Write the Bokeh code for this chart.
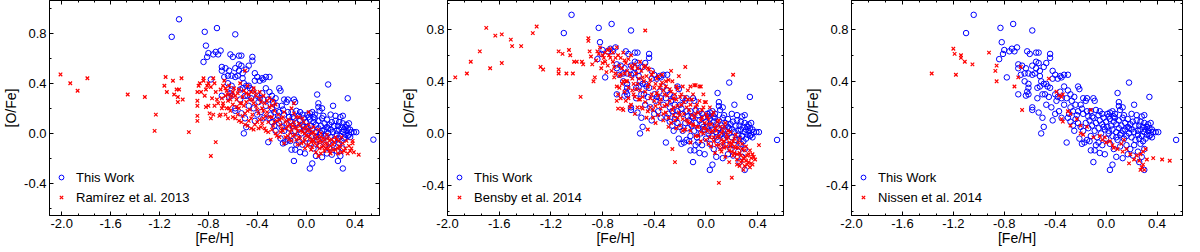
import numpy as np
from bokeh.plotting import figure
from bokeh.layouts import row
from bokeh.models import (FixedTicker, LinearAxis, PrintfTickFormatter, Range1d,
                          Legend, LegendItem, CustomLabelingPolicy)
from bokeh.embed import file_html
from bokeh.resources import INLINE

# ---------------- data ----------------
x_ticks = [-2.0, -1.6, -1.2, -0.8, -0.4, 0.0, 0.4]
y_ticks = [-0.4, 0.0, 0.4, 0.8]

this_work = [
    (-1.04,0.91),(-1.10,0.77),(-0.73,0.84),(-0.83,0.81),(-0.58,0.79),(-0.82,0.70),(-0.80,0.64),(-0.84,0.57),
    (-0.81,0.61),(-0.76,0.63),(-0.74,0.65),(-0.70,0.66),(-0.72,0.63),(-0.62,0.63),(-0.60,0.61),(-0.55,0.62),
    (-0.53,0.62),(-0.44,0.61),(-0.44,0.58),(-0.55,0.55),(-0.53,0.54),(-0.58,0.52),(-0.69,0.53),(-0.66,0.52),
    (-0.69,0.50),(-0.63,0.50),(-0.55,0.50),(-0.52,0.48),(-0.56,0.46),(-0.47,0.54),(-0.49,0.51),(-0.61,0.46),
    (-0.64,0.46),(-0.67,0.45),(-0.58,0.45),(-0.52,0.44),(-0.78,0.43),(-0.42,0.48),(-0.40,0.45),(-0.36,0.44),
    (-0.33,0.45),(-0.30,0.45),(-0.38,0.42),(-0.35,0.43),(-0.42,0.42),(-0.51,0.40),(-0.49,0.38),(-0.47,0.38),
    (-0.46,0.36),(-0.44,0.35),(-0.52,0.36),(-0.54,0.35),(-0.61,0.38),(-0.61,0.35),(-0.62,0.32),(-0.61,0.30),
    (-0.63,0.29),(-0.69,0.30),(-0.64,0.40),(-0.50,0.30),(-0.48,0.30),(-0.45,0.28),(-0.40,0.30),(-0.36,0.32),
    (-0.33,0.36),(-0.30,0.33),(-0.28,0.30),(-0.22,0.36),(-0.21,0.34),(-0.38,0.28),(-0.35,0.27),(-0.31,0.27),
    (-0.27,0.25),(-0.25,0.28),(-0.24,0.22),(-0.28,0.20),(-0.33,0.22),(-0.39,0.25),(-0.43,0.20),(-0.47,0.22),
    (-0.54,0.27),(-0.58,0.20),(-0.58,0.18),(-0.53,0.16),(-0.50,0.12),(-0.40,0.15),(-0.37,0.17),(-0.35,0.12),
    (-0.51,0.00),(-0.49,0.05),(-0.31,-0.07),(-0.42,0.10),(-0.18,0.27),(-0.15,0.27),(-0.10,0.27),(-0.09,0.25),
    (-0.16,0.25),(-0.20,0.22),(-0.19,0.19),(-0.22,0.17),(-0.26,0.17),(-0.29,0.15),(-0.23,0.14),(-0.18,0.15),
    (-0.14,0.13),(-0.12,0.17),(-0.08,0.18),(-0.05,0.17),(-0.03,0.15),(0.01,0.15),(0.03,0.16),(0.05,0.17),
    (0.07,0.15),(0.09,0.31),(0.10,0.24),(0.10,0.21),(0.11,0.18),(0.13,0.20),(0.18,0.39),(0.22,0.22),
    (0.34,0.28),(0.20,0.15),(0.24,0.14),(0.28,0.13),(0.30,0.14),(0.33,0.07),(0.35,0.08),(0.37,0.01),
    (0.39,0.01),(0.41,0.01),(0.55,-0.05),(0.36,-0.03),(0.34,-0.02),(0.31,-0.04),(0.29,-0.06),(0.27,-0.08),
    (0.30,-0.12),(0.25,-0.14),(0.28,-0.18),(0.30,-0.28),(0.26,-0.22),(0.21,-0.17),(0.17,-0.16),(0.13,-0.19),
    (0.08,-0.18),(0.03,-0.28),(0.05,-0.24),(-0.01,-0.16),(-0.05,-0.15),(-0.10,-0.22),(-0.09,-0.13),(-0.12,-0.13),
    (-0.17,-0.07),(-0.19,-0.08),(-0.15,-0.05),(-0.08,-0.09),(-0.06,-0.07),
    (-0.20,0.05),(-0.18,0.02),(-0.16,0.08),(-0.14,0.04),(-0.13,0.10),(-0.12,-0.02),(-0.11,0.06),(-0.10,0.12),
    (-0.09,0.02),(-0.08,0.08),(-0.07,-0.03),(-0.06,0.04),(-0.05,0.10),(-0.04,0.00),(-0.03,0.07),(-0.02,0.12),
    (-0.01,0.03),(0.00,-0.04),(0.00,0.09),(0.01,0.05),(0.02,0.00),(0.03,0.11),(0.04,0.06),(0.05,-0.02),
    (0.05,0.03),(0.06,0.09),(0.07,0.12),(0.08,0.01),(0.08,0.07),(0.09,-0.05),(0.10,0.04),(0.10,0.10),
    (0.11,-0.01),(0.12,0.06),(0.13,0.02),(0.13,0.12),(0.14,-0.04),(0.15,0.08),(0.15,0.03),(0.16,-0.02),
    (0.17,0.05),(0.17,0.11),(0.18,0.00),(0.19,0.07),(0.20,0.03),(0.20,-0.03),(0.21,0.09),(0.22,0.01),
    (0.23,0.06),(0.23,-0.05),(0.24,0.10),(0.25,0.02),(0.25,-0.01),(0.26,0.06),(0.27,0.03),(0.27,0.09),
    (0.28,-0.02),(0.29,0.05),(0.30,0.01),(0.30,0.08),(0.31,0.03),(0.32,-0.01),(0.32,0.05),(0.33,0.02),
    (0.34,0.04),(0.35,-0.01),(0.36,0.03),(-0.22,0.08),(-0.24,0.11),(-0.26,0.06),(-0.28,0.09),(-0.25,0.02),
    (-0.30,0.12),(-0.15,0.17),(-0.11,0.13),(-0.06,0.14),(0.02,0.13),(0.06,0.13),(0.14,0.14),(-0.13,-0.06),
    (-0.03,-0.09),(0.03,-0.08),(0.06,-0.12),(0.11,-0.10),(0.16,-0.09),(0.19,-0.12),(0.22,-0.09),(-0.21,-0.04),
    (0.08,-0.03),(0.12,0.00),(0.18,0.04),(0.02,0.02),(-0.02,0.05),(0.26,-0.04),
]

ramirez_2013 = [
    (-2.01,0.47),(-1.93,0.40),(-1.87,0.34),(-1.79,0.44),(-1.46,0.31),(-1.32,0.29),(-1.24,0.02),(-1.23,0.15),
    (-1.16,0.38),(-1.15,0.45),(-1.14,0.33),(-1.09,0.42),(-1.08,0.31),(-1.06,0.35),(-1.05,0.25),(-1.05,0.29),
    (-1.04,0.35),(-1.02,0.44),(-1.01,0.27),(-0.96,0.01),(-0.89,0.33),(-0.89,0.26),(-0.89,0.22),(-0.89,0.14),
    (-0.89,0.10),(-0.86,0.33),(-0.88,0.38),(-0.87,0.40),(-0.84,0.44),(-0.83,0.30),(-0.82,0.35),(-0.80,0.40),
    (-0.78,0.37),(-0.79,0.16),(-0.78,0.12),(-0.76,0.44),(-0.75,0.40),(-0.74,0.33),(-0.73,0.27),(-0.75,0.22),
    (-0.72,0.24),(-0.74,-0.07),(-0.78,-0.18),(-0.70,0.15),(-0.68,0.38),(-0.66,0.30),(-0.65,0.20),(-0.64,0.12),
    (-0.84,0.42),(-0.81,0.38),(-0.82,0.21),(-0.80,0.22),(-0.77,0.28),(-0.76,0.15),(-0.71,0.14),(-0.69,0.20),
    (-0.68,0.24),
    (-0.70,0.35),(-0.69,0.28),(-0.68,0.22),(-0.67,0.42),(-0.66,0.15),(-0.65,0.34),(-0.64,0.26),(-0.63,0.38),
    (-0.62,0.18),(-0.61,0.30),(-0.60,0.23),(-0.59,0.36),(-0.58,0.12),(-0.57,0.27),(-0.56,0.32),(-0.55,0.20),
    (-0.54,0.40),(-0.53,0.09),(-0.52,0.29),(-0.51,0.34),(-0.50,0.50),(-0.50,0.16),(-0.49,0.25),(-0.48,0.06),
    (-0.47,0.31),(-0.46,0.19),(-0.45,0.12),(-0.44,0.27),(-0.43,0.03),(-0.42,0.33),(-0.41,0.22),(-0.40,0.09),
    (-0.39,0.16),(-0.38,0.28),(-0.37,0.05),(-0.36,0.20),(-0.35,0.12),(-0.34,0.24),(-0.33,0.02),(-0.32,0.17),
    (-0.31,0.09),(-0.30,0.21),
    (-0.66,0.36),(-0.64,0.31),(-0.62,0.27),(-0.60,0.33),(-0.58,0.30),(-0.57,0.21),(-0.55,0.35),(-0.54,0.24),
    (-0.52,0.14),(-0.51,0.22),(-0.49,0.32),(-0.48,0.18),(-0.47,0.10),(-0.46,0.27),(-0.45,0.33),(-0.44,0.15),
    (-0.43,0.24),(-0.42,0.07),(-0.41,0.30),(-0.40,0.19),(-0.39,0.04),(-0.38,0.11),(-0.37,0.25),(-0.36,0.08),
    (-0.35,0.18),(-0.34,0.04),(-0.33,0.14),(-0.32,0.26),(-0.31,0.01),(-0.30,0.13),(-0.45,0.04),(-0.50,0.07),
    (-0.55,0.10),(-0.60,0.13),(-0.63,0.20),(-0.56,0.15),(-0.53,0.24),(-0.48,0.38),(-0.43,0.36),(-0.38,0.33),
    (-0.35,0.30),(-0.30,0.28),(-0.27,0.26),(-0.25,0.23),(-0.28,0.22),
    (-0.29,-0.05),(-0.28,0.13),(-0.27,0.06),(-0.26,0.18),(-0.25,0.00),(-0.24,0.10),(-0.23,0.15),(-0.22,-0.03),
    (-0.21,0.07),(-0.20,0.12),(-0.19,0.02),(-0.18,-0.08),(-0.17,0.09),(-0.16,0.04),(-0.15,-0.02),(-0.14,0.11),
    (-0.13,0.01),(-0.12,-0.06),(-0.11,0.06),(-0.10,0.16),(-0.09,-0.01),(-0.08,0.04),(-0.07,-0.09),(-0.06,0.08),
    (-0.05,-0.04),(-0.04,0.02),(-0.03,0.12),(-0.02,-0.07),(-0.01,0.00),(0.00,0.05),(0.01,-0.10),(0.02,-0.02),
    (0.03,0.03),(0.04,-0.13),(0.05,-0.05),(0.06,0.01),(0.07,-0.08),(0.08,-0.15),(0.09,-0.03),(0.10,-0.18),
    (0.11,-0.06),(0.12,0.00),(0.13,-0.11),(0.14,-0.04),(0.15,-0.14),(0.16,-0.08),(0.17,-0.01),(0.18,-0.12),
    (0.19,-0.06),(0.20,-0.16),(0.22,-0.09),(0.24,-0.13),(0.25,-0.05),(0.27,-0.10),(0.29,-0.15),(0.30,-0.08),
    (0.32,-0.12),(0.34,-0.16),(0.36,-0.14),(0.38,-0.08),(0.38,-0.06),(0.43,-0.17),
    (-0.28,0.03),(-0.26,0.09),(-0.24,-0.02),(-0.22,0.11),(-0.21,0.01),(-0.20,0.04),(-0.19,0.13),(-0.17,-0.03),
    (-0.16,0.10),(-0.15,0.06),(-0.14,-0.05),(-0.13,0.07),(-0.12,0.03),(-0.11,-0.02),(-0.10,0.09),(-0.09,0.05),
    (-0.08,-0.05),(-0.07,0.02),(-0.06,-0.03),(-0.05,0.06),(-0.04,-0.08),(-0.03,0.01),(-0.02,0.04),(-0.01,-0.05),
    (0.00,-0.02),(0.01,0.02),(0.02,-0.09),(0.03,-0.04),(0.04,0.00),(0.05,-0.11),(0.06,-0.06),(0.07,-0.01),
    (0.08,-0.04),(0.09,-0.10),(0.10,-0.07),(0.11,-0.12),(0.12,-0.03),(0.13,-0.07),(0.14,-0.10),(0.15,-0.05),
    (0.16,-0.12),(0.17,-0.09),(0.18,-0.04),(0.19,-0.14),(0.20,-0.10),(0.21,-0.05),(0.22,-0.13),(0.23,-0.07),
    (0.24,-0.03),(0.26,-0.12),(0.27,-0.06),(0.28,-0.11),(0.29,-0.03),(0.31,-0.14),(0.33,-0.06),(0.35,-0.10),
    (0.37,-0.12),(0.39,-0.15),(-0.06,0.13),(-0.02,0.09),(0.02,0.07),(0.06,0.05),(0.10,0.03),(-0.18,0.17),
    (-0.12,0.20),(-0.01,-0.12),(0.04,-0.07),(0.12,-0.16),(0.26,-0.16),(0.02,0.17),(-0.10,0.24),(-0.08,0.13),
]

bensby_2014 = [
    (-1.94,0.43),(-1.85,0.46),(-1.82,0.55),(-1.75,0.63),(-1.70,0.81),(-1.67,0.50),(-1.63,0.75),(-1.58,0.76),
    (-1.58,0.54),(-1.51,0.72),(-1.50,0.67),(-1.43,0.67),(-1.34,0.77),(-1.31,0.82),(-1.28,0.51),(-1.26,0.49),
    (-1.14,0.63),(-1.14,0.49),(-1.14,0.46),(-1.11,0.61),(-1.08,0.46),(-1.06,0.64),(-1.05,0.60),(-1.03,0.46),
    (-1.02,0.55),(-1.00,0.55),(-0.97,0.28),(-0.96,0.55),(-0.95,0.53),(-0.91,0.73),(-0.91,0.71),(-0.90,0.63),
    (-0.89,0.59),(-0.88,0.53),(-0.87,0.40),(-0.86,0.43),(-0.85,0.56),(-0.83,0.61),(-0.82,0.66),(-0.81,0.50),
    (-0.80,0.54),(-0.79,0.58),(-0.78,0.62),(-0.77,0.47),(-0.76,0.52),(-0.75,0.60),(-0.74,0.65),(-0.73,0.48),
    (-0.72,0.55),(-0.71,0.43),(-0.70,0.58),(-0.69,0.66),(-0.69,0.36),(-0.68,0.30),(-0.67,0.52),(-0.66,0.45),
    (-0.65,0.19),(-0.64,0.40),(-0.63,0.56),(-0.62,0.25),(-0.61,0.48),(-0.60,0.35),(-0.59,0.20),(-0.58,0.52),
    (-0.57,0.42),(-0.56,0.30),(-0.55,0.15),(-0.54,0.46),(-0.53,0.38),(-0.52,0.26),(-0.51,0.55),(-0.50,0.20),
    (-0.49,0.43),(-0.48,0.51),(-0.47,0.79),(-0.47,0.32),(-0.46,0.12),(-0.45,0.50),(-0.44,0.38),(-0.43,0.27),
    (-0.42,0.45),(-0.41,0.18),(-0.40,0.35),(-0.39,0.08),(-0.38,0.42),(-0.37,0.29),(-0.36,0.23),(-0.35,0.37),
    (-0.34,0.45),(-0.33,0.15),(-0.32,0.30),(-0.31,0.40),(-0.30,0.22),(-0.29,0.05),(-0.28,0.34),(-0.27,0.48),
    (-0.26,0.18),(-0.25,0.27),(-0.24,-0.22),(-0.24,0.10),(-0.23,0.36),(-0.22,0.21),(-0.21,0.44),(-0.20,0.14),
    (-0.19,0.30),(-0.18,0.02),(-0.17,0.24),(-0.16,0.51),(-0.15,0.10),(-0.14,0.33),(-0.13,0.18),(-0.12,-0.07),
    (-0.11,0.26),(-0.10,0.06),(-0.09,0.37),(-0.08,0.15),(-0.07,0.22),(-0.06,-0.02),(-0.05,0.36),(-0.04,0.10),
    (-0.03,0.18),(-0.02,0.04),(-0.01,0.24),(0.00,-0.05),(0.01,0.13),(0.02,0.07),(0.03,0.20),(0.04,-0.10),
    (0.05,0.02),(0.06,0.16),(0.07,-0.15),(0.08,0.06),(0.09,-0.03),(0.10,-0.38),(0.10,0.10),(0.11,-0.12),
    (0.12,0.00),(0.13,-0.08),(0.14,0.05),(0.15,-0.18),(0.16,-0.04),(0.17,0.02),(0.18,-0.22),(0.19,-0.10),
    (0.20,-0.34),(0.21,0.45),(0.21,-0.06),(0.22,-0.15),(0.23,-0.01),(0.24,-0.20),(0.25,-0.11),(0.26,-0.25),
    (0.27,-0.17),(0.28,-0.08),(0.29,-0.28),(0.30,-0.13),(0.31,-0.21),(0.32,-0.24),(0.33,-0.16),(0.34,-0.26),
    (0.35,-0.19),(0.36,-0.24),(0.37,-0.18),(0.41,-0.09),
    (-0.84,0.63),(-0.80,0.60),(-0.78,0.55),(-0.76,0.64),(-0.74,0.58),(-0.72,0.62),(-0.71,0.51),(-0.70,0.46),
    (-0.68,0.60),(-0.67,0.44),(-0.66,0.58),(-0.65,0.50),(-0.64,0.62),(-0.63,0.46),(-0.62,0.54),(-0.61,0.40),
    (-0.60,0.57),(-0.59,0.45),(-0.58,0.60),(-0.57,0.50),(-0.56,0.38),(-0.55,0.53),(-0.54,0.34),(-0.53,0.50),
    (-0.52,0.42),(-0.51,0.33),(-0.50,0.48),(-0.49,0.28),(-0.48,0.40),(-0.47,0.52),(-0.46,0.44),(-0.45,0.36),
    (-0.44,0.49),(-0.43,0.41),(-0.42,0.30),(-0.41,0.47),(-0.40,0.25),(-0.39,0.38),(-0.38,0.31),(-0.37,0.44),
    (-0.36,0.35),(-0.35,0.26),(-0.34,0.39),(-0.33,0.33),(-0.32,0.21),(-0.31,0.36),(-0.30,0.29),(-0.29,0.41),
    (-0.28,0.25),(-0.27,0.32),(-0.26,0.40),(-0.25,0.20),(-0.24,0.30),(-0.23,0.26),(-0.22,0.34),(-0.21,0.16),
    (-0.20,0.28),(-0.19,0.22),(-0.18,0.36),(-0.17,0.15),(-0.16,0.28),(-0.15,0.20),(-0.14,0.26),(-0.13,0.08),
    (-0.12,0.22),(-0.11,0.14),(-0.10,0.30),(-0.09,0.12),(-0.08,0.20),(-0.07,0.05),(-0.06,0.16),(-0.05,0.25),
    (-0.04,0.01),(-0.03,0.12),(-0.02,0.20),(-0.01,0.08),(0.00,0.15),(0.01,0.02),(0.02,0.11),(0.03,-0.03),
    (0.04,0.07),(0.05,0.14),(0.06,-0.06),(0.07,0.04),(0.08,-0.09),(0.09,0.09),(0.10,-0.02),(0.11,0.05),
    (0.12,-0.14),(0.13,0.02),(0.14,-0.06),(0.15,0.08),(0.16,-0.10),(0.17,-0.03),(0.18,-0.13),(0.19,0.01),
    (0.20,-0.08),(0.21,-0.17),(0.22,-0.04),(0.23,-0.11),(0.24,-0.24),(0.25,-0.07),(0.26,-0.15),(0.27,-0.22),
    (0.28,-0.12),(0.29,-0.19),(0.30,-0.25),(0.31,-0.10),(0.32,-0.17),(0.33,-0.22),(0.34,-0.13),(0.35,-0.23),
    (0.36,-0.16),(0.38,-0.20),
    (-0.69,0.25),(-0.68,0.19),(-0.67,0.35),(-0.66,0.27),(-0.65,0.38),(-0.64,0.18),(-0.63,0.32),(-0.62,0.40),
    (-0.60,0.27),(-0.58,0.22),(-0.57,0.33),(-0.55,0.28),(-0.53,0.20),(-0.51,0.26),(-0.49,0.19),(-0.47,0.24),
    (-0.45,0.17),(-0.43,0.20),(-0.41,0.12),(-0.39,0.21),(-0.37,0.14),(-0.35,0.19),(-0.33,0.10),(-0.31,0.16),
    (-0.29,0.12),(-0.27,0.08),(-0.25,0.14),(-0.23,0.04),(-0.22,0.12),(-0.20,0.06),(-0.18,0.11),(-0.16,0.03),
    (-0.14,0.09),(-0.12,0.02),(-0.10,0.07),(-0.08,-0.02),(-0.06,0.05),(-0.04,-0.06),(-0.02,0.00),(0.00,0.04),
    (0.02,-0.08),(0.04,0.01),(0.06,-0.03),(0.08,0.02),(0.10,-0.09),(0.12,-0.05),(0.14,-0.11),(0.16,-0.01),
    (0.18,-0.07),(0.20,-0.14),(0.22,-0.10),(0.24,-0.16),(0.26,-0.04),(0.28,-0.21),(0.30,-0.18),(-0.12,0.36),
    (-0.08,0.37),(-0.04,0.36),(-0.02,0.30),(0.00,0.24),(-0.26,-0.12),(-0.45,0.03),
]

nissen_2014 = [
    (-1.37,0.46),(-1.20,0.65),(-1.19,0.61),(-1.18,0.45),(-1.14,0.60),(-1.14,0.58),(-1.11,0.55),(-1.05,0.53),
    (-0.92,0.62),(-0.87,0.48),(-0.86,0.52),(-0.86,0.40),(-0.72,0.36),(-0.69,0.43),(-0.67,0.51),(-0.66,0.18),
    (-0.45,0.42),(-0.39,0.32),(-0.37,0.29),(-0.35,0.28),(-0.34,0.30),(-0.35,0.11),(-0.34,0.09),(-0.30,0.17),
    (-0.28,0.06),(-0.28,0.15),(-0.23,0.11),(-0.20,0.06),(-0.20,0.00),(-0.18,-0.01),(-0.15,0.05),(-0.12,0.18),
    (-0.10,-0.03),(-0.05,-0.02),(-0.03,-0.05),(-0.01,-0.03),(0.00,-0.07),(0.03,-0.06),(0.05,-0.09),(0.06,-0.11),
    (0.09,-0.12),(0.12,-0.08),(0.13,-0.14),(0.14,-0.05),(0.16,-0.12),(0.18,-0.23),(0.19,-0.16),(0.22,-0.20),
    (0.24,-0.17),(0.26,-0.21),(0.27,-0.16),(0.28,-0.26),(0.29,-0.14),(0.30,-0.28),(0.31,-0.12),(0.32,-0.20),
    (0.37,-0.19),(0.44,-0.20),(0.50,-0.21),(0.29,-0.24),(0.27,-0.28),
]

# ---------------- styling ----------------
FONT = "Liberation Sans"
H = 248
x_minor = [float(v) for v in np.round(np.arange(-2.4, 0.81, 0.4 / 3), 4)]
y_minor = [float(v) for v in np.round(np.arange(-0.8, 1.21, 0.2), 4)]

NO_LABELS = "for (const i of indices) { indices.unset(i) }\nreturn indices"


def style_axis(ax, show_labels, label_standoff=0):
    ax.major_tick_in = 4
    ax.major_tick_out = 0
    ax.minor_tick_in = 2
    ax.minor_tick_out = 0
    ax.axis_line_color = "black"
    ax.major_tick_line_color = "black"
    ax.minor_tick_line_color = "black"
    if show_labels:
        ax.major_label_text_font = FONT
        ax.major_label_text_font_size = "13px"
        ax.major_label_text_color = "black"
        ax.major_label_standoff = 3
        ax.axis_label_text_font = FONT
        ax.axis_label_text_font_size = "14px"
        ax.axis_label_text_font_style = "normal"
        ax.axis_label_text_color = "black"
        ax.axis_label_standoff = label_standoff
        ax.formatter = PrintfTickFormatter(format="%.1f")
    else:
        ax.major_label_policy = CustomLabelingPolicy(code=NO_LABELS)
        ax.major_label_text_font_size = "0px"
        ax.major_label_standoff = 0
        ax.axis_label = None


def make_panel(pts, label, x_range, y_range, width, bl, br):
    p = figure(width=width, height=H, output_backend="svg", toolbar_location=None,
               x_range=Range1d(*x_range), y_range=Range1d(*y_range),
               min_border_left=bl, min_border_right=br, min_border_top=0, min_border_bottom=20)
    p.grid.visible = False
    p.outline_line_color = "black"
    p.outline_line_width = 1
    p.background_fill_color = "white"
    p.border_fill_color = "white"

    p.xaxis[0].ticker = FixedTicker(ticks=x_ticks, minor_ticks=x_minor)
    p.yaxis[0].ticker = FixedTicker(ticks=y_ticks, minor_ticks=y_minor)
    p.xaxis[0].axis_label = "[Fe/H]"
    p.yaxis[0].axis_label = "[O/Fe]"
    style_axis(p.xaxis[0], True, label_standoff=-1)
    style_axis(p.yaxis[0], True, label_standoff=2)

    top = LinearAxis(ticker=FixedTicker(ticks=x_ticks, minor_ticks=x_minor))
    right = LinearAxis(ticker=FixedTicker(ticks=y_ticks, minor_ticks=y_minor))
    style_axis(top, False)
    style_axis(right, False)
    p.add_layout(top, "above")
    p.add_layout(right, "right")

    tx = [a for a, b in this_work]
    ty = [b for a, b in this_work]
    rx = [a for a, b in pts]
    ry = [b for a, b in pts]
    r_blue = p.scatter(tx, ty, marker="circle", size=5.5, fill_color=None,
                       line_color="#0000ff", line_width=1)
    r_red = p.scatter(rx, ry, marker="x", size=5, line_color="#ff0000", line_width=1.2)

    legend = Legend(items=[LegendItem(label="This Work", renderers=[r_blue]),
                           LegendItem(label=label, renderers=[r_red])],
                    location=(6, 8), orientation="vertical")
    legend.border_line_color = None
    legend.background_fill_alpha = 0
    legend.label_text_font = FONT
    legend.label_text_font_size = "13px"
    legend.label_text_color = "black"
    legend.glyph_width = 12
    legend.glyph_height = 20
    legend.label_height = 20
    legend.label_standoff = 9
    legend.spacing = 0
    legend.padding = 0
    legend.margin = 0
    p.add_layout(legend)
    return p


p1 = make_panel(ramirez_2013, "Ramírez et al. 2013", (-2.1, 0.6), (-0.655, 1.06), 392, 42, 13)
p2 = make_panel(bensby_2014, "Bensby et al. 2014", (-2.0, 0.6), (-0.63, 1.02), 400, 55, 9)
p3 = make_panel(nissen_2014, "Nissen et al. 2014", (-2.0, 0.6), (-0.63, 1.02), 392, 59, 2)

layout = row(p1, p2, p3, spacing=0)
open("out.html", "w").write(file_html(layout, INLINE))
